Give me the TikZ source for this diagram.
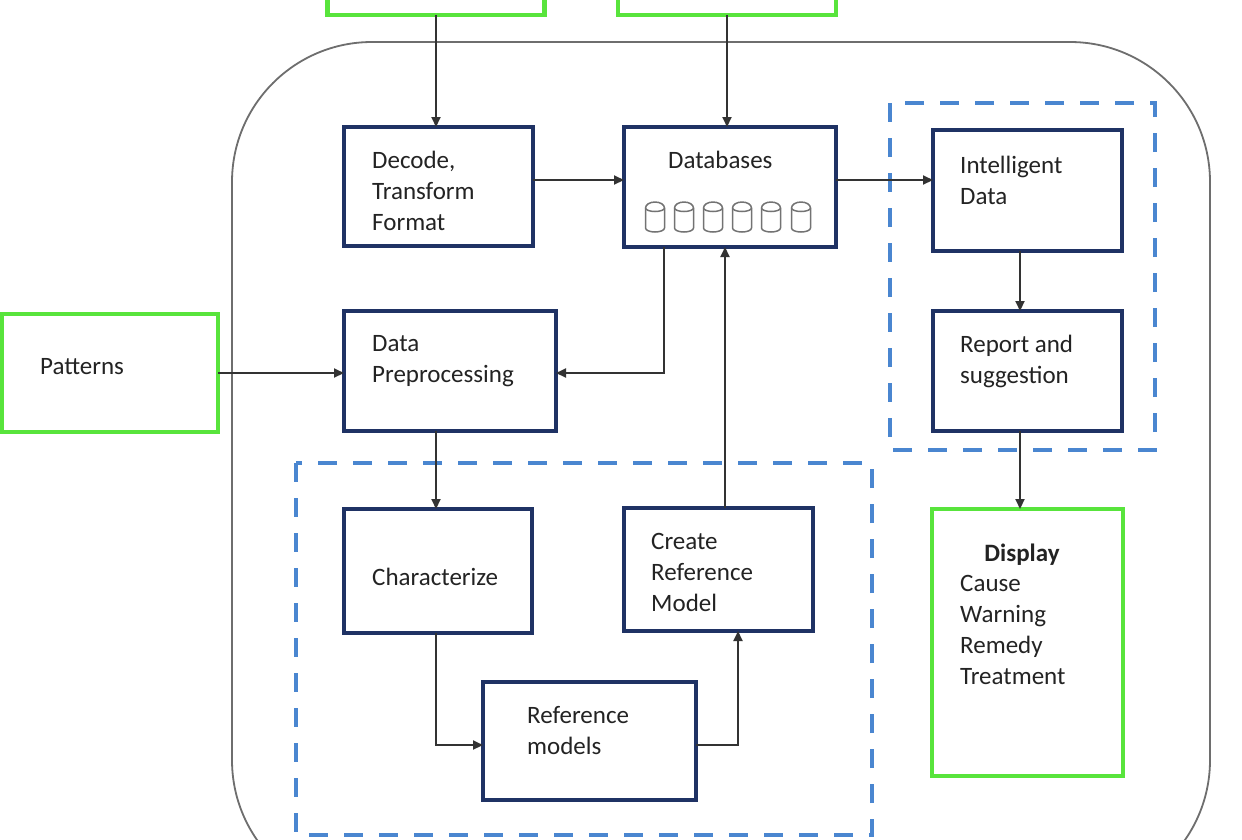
\documentclass[tikz,border=0pt]{standalone}
\usepackage{fontspec}
\setmainfont{Carlito}
\usetikzlibrary{arrows.meta,calc}
\definecolor{navy}{RGB}{31,50,100}
\definecolor{gbright}{RGB}{88,228,60}
\definecolor{dblue}{RGB}{74,134,208}
\definecolor{outerg}{RGB}{110,110,110}
\definecolor{txtc}{RGB}{35,35,35}
\tikzset{
  nbox/.style={draw=navy, line width=4pt, fill=white, inner sep=0pt, outer sep=0pt},
  gbox/.style={draw=gbright, line width=4.5pt, fill=white, inner sep=0pt, outer sep=0pt},
  arr/.style={draw=black!80, line width=2pt, -{Triangle[length=10pt,width=9pt]}},
  txt/.style={font=\fontsize{25}{31}\selectfont, text=txtc, inner sep=0pt, align=left, anchor=north west},
  dbox/.style={draw=dblue, line width=4pt, dash pattern=on 19pt off 16pt},
  cyl/.style={draw=black!55, line width=1.5pt}
}
\begin{document}
\begin{tikzpicture}[x=1pt,y=1pt]
\useasboundingbox (0,0) rectangle (1242,-839);
\begin{scope}
\clip (0,0) rectangle (1242,-839);
\fill[white] (0,0) rectangle (1242,-839);
% outer rounded frame
\draw[outerg, line width=1.8pt, rounded corners=140pt] (232,-42) rectangle (1210,-900);
% dashed groups
\draw[dbox] (890,-103) rectangle (1155,-450);
\draw[dbox] (296,-463) rectangle (872,-835);
% top green boxes (cropped)
\node[gbox, minimum width=217pt, minimum height=115pt] (top1) at (436,42.5) {};
\node[gbox, minimum width=218pt, minimum height=115pt] (top2) at (727,42.5) {};
% boxes
\node[nbox, minimum width=189pt, minimum height=119pt] (dec) at (438.5,-186.5) {};
\node[nbox, minimum width=212pt, minimum height=120pt] (db) at (730,-187) {};
\node[nbox, minimum width=189pt, minimum height=121pt] (intel) at (1027.5,-190.5) {};
\node[nbox, minimum width=189pt, minimum height=120pt] (rep) at (1027.5,-371) {};
\node[gbox, minimum width=191pt, minimum height=267pt] (disp) at (1027.5,-642.5) {};
\node[gbox, minimum width=216pt, minimum height=118pt] (pat) at (110,-373) {};
\node[nbox, minimum width=212pt, minimum height=120pt] (pre) at (450,-371) {};
\node[nbox, minimum width=188pt, minimum height=124pt] (char) at (438,-571) {};
\node[nbox, minimum width=189pt, minimum height=123pt] (crm) at (718.5,-569.5) {};
\node[nbox, minimum width=213pt, minimum height=118pt] (refm) at (589.5,-741) {};
% texts
\node[txt] (tdec) at (372,-151) {Decode,\\Transform\\Format};
\node[txt] (tdb) at (668,-151) {Databases};
\node[txt] (tintel) at (960,-156) {Intelligent\\Data};
\node[txt] (trep) at (960,-335) {Report and\\suggestion};
\node[txt] (tpre) at (372,-335) {Data\\Preprocessing};
\node[txt] (tchar) at (372,-568) {Characterize};
\node[txt] (tcrm) at (651,-533) {Create\\Reference\\Model};
\node[txt] (trefm) at (527,-706) {Reference\\models};
\node[txt] (tpat) at (40,-358) {Patterns};
\node[txt, anchor=north] (tdisp) at (1022,-544) {\bfseries Display};
\node[txt] (tdisp2) at (960,-575) {Cause\\Warning\\Remedy\\Treatment};
% cylinders
\foreach \cx in {655,684,713,742,771,801} {
  \draw[cyl] (\cx-9.5,-208) -- (\cx-9.5,-228) arc[start angle=180,end angle=360,x radius=9.5,y radius=4] -- (\cx+9.5,-208) arc[start angle=0,end angle=180,x radius=9.5,y radius=6] -- cycle;
  \draw[cyl] (\cx-9.5,-208) arc[start angle=180,end angle=360,x radius=9.5,y radius=3.5];
}
% connectors
\draw[arr] (top1.south) -- (top1.south |- dec.north);
\draw[arr] (top2.south) -- (top2.south |- db.north);
\draw[arr] ([yshift=6.5pt]dec.east) -- ([yshift=6.5pt]dec.east -| db.west);
\draw[arr] ([yshift=7pt]db.east) -- ([yshift=7pt]db.east -| intel.west);
\draw[arr] ([xshift=-7.5pt]intel.south) -- ([xshift=-7.5pt]intel.south |- rep.north);
\draw[arr] ([xshift=-7.5pt]rep.south) -- ([xshift=-7.5pt]rep.south |- disp.north);
\draw[arr] (pat.east) -- (pat.east -| pre.west);
\draw[arr] ([xshift=-66pt]db.south) |- ([yshift=-2pt]pre.east);
\draw[arr] ([xshift=6.5pt]crm.north) -- ([xshift=6.5pt]crm.north |- db.south);
\draw[arr] ([xshift=-14pt]pre.south) -- ([xshift=-14pt]pre.south |- char.north);
\draw[arr] ([xshift=-2pt]char.south) |- ([yshift=-4pt]refm.west);
\draw[arr] ([yshift=-4pt]refm.east) -| ([xshift=19.5pt]crm.south);
\end{scope}
\end{tikzpicture}
\end{document}
